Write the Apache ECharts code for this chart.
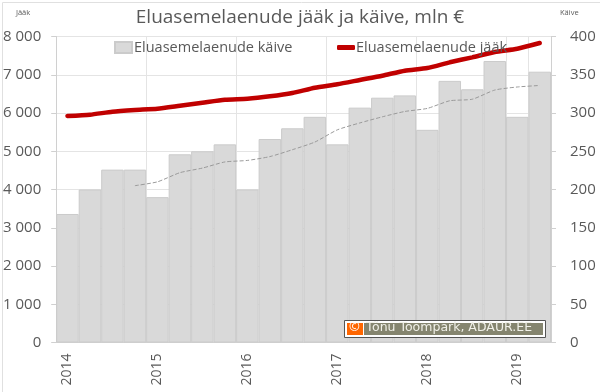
<!DOCTYPE html>
<html>
<head>
<meta charset="utf-8">
<title>Eluasemelaenude jääk ja käive</title>
<script src="https://cdn.jsdelivr.net/npm/echarts@6/dist/echarts.min.js"></script>
<style>
  html, body { margin: 0; padding: 0; background: #fff; }
  #chart { width: 600px; height: 392px; }
</style>
</head>
<body>
<div id="chart"></div>
<script>
// kvartalid, aasta silt iga nelja tulba kohta
let kvartalid = ['2014', '', '', '', '2015', '', '', '', '2016', '', '', '', '2017', '', '', '', '2018', '', '', '', '2019', ''];
let jaak = [5922, 5956, 6034, 6078, 6113, 6191, 6270, 6348, 6374, 6436, 6523, 6662, 6750, 6863, 6975, 7106, 7176, 7325, 7455, 7595, 7681, 7830];
let kaive = [168, 200, 226, 226, 190, 246, 250, 259, 200, 266, 280, 295, 259, 307, 320, 323, 278, 342, 331, 368, 295, 354];
let kaiveKeskmine = ['-', '-', '-', 205, 210, 222, 228, 236, 238, 243, 252, 262, 278, 287, 295, 302, 306, 316, 318, 330, 334, 336];

let fontFamily = '"Open Sans", "Noto Sans", sans-serif';
let textColor = '#595959';
let gridColor = '#e4e4e4';
let axisColor = '#d0d0d0';

let chart = echarts.init(document.getElementById('chart'), null, {renderer: 'canvas'});

let option = {
  animation: false,
  textStyle: {fontFamily: fontFamily},
  title: {
    text: 'Eluasemelaenude jääk ja käive, mln €',
    left: 'center',
    top: 3,
    textStyle: {fontFamily: fontFamily, fontSize: 19, fontWeight: 'normal', color: textColor}
  },
  legend: [
    {
      data: [{name: 'Eluasemelaenude käive', icon: 'rect'}],
      left: 109,
      top: 35,
      itemWidth: 17,
      itemHeight: 11,
      itemGap: 2,
      textStyle: {fontFamily: fontFamily, fontSize: 14.5, color: textColor, padding: [0, 0, 0, -3]}
    },
    {
      data: [{name: 'Eluasemelaenude jääk', icon: 'roundRect', itemStyle: {color: '#c00000', borderWidth: 0}}],
      left: 332,
      top: 35,
      itemWidth: 18,
      itemHeight: 5,
      textStyle: {fontFamily: fontFamily, fontSize: 14.5, color: textColor, padding: [0, 0, 0, -4]}
    }
  ],
  grid: {left: 53, right: 49, top: 36.5, bottom: 49.5},
  xAxis: {
    type: 'category',
    data: kvartalid,
    axisLine: {lineStyle: {color: axisColor}},
    axisTick: {interval: 3, length: 5, lineStyle: {color: axisColor}},
    splitLine: {show: true, interval: 3, lineStyle: {color: gridColor}},
    axisLabel: {interval: 0, rotate: 90, margin: 11, fontSize: 14, color: textColor}
  },
  yAxis: [
    {
      type: 'value',
      min: 0,
      max: 8000,
      interval: 1000,
      name: 'Jääk',
      nameGap: 20,
      nameTextStyle: {fontSize: 7.5, color: textColor, align: 'right', padding: [0, 26, 0, 0]},
      axisLine: {show: true, lineStyle: {color: axisColor}},
      axisTick: {show: true, length: 5, lineStyle: {color: axisColor}},
      splitLine: {lineStyle: {color: gridColor}},
      axisLabel: {
        margin: 15,
        fontSize: 15,
        color: textColor,
        formatter: function (value) {
          return value === 0 ? '0' : String(value).replace('000', ' 000');
        }
      }
    },
    {
      type: 'value',
      min: 0,
      max: 400,
      interval: 50,
      name: 'Käive',
      nameGap: 20,
      nameTextStyle: {fontSize: 7.5, color: textColor, align: 'left', padding: [0, 0, 0, 9]},
      axisLine: {show: true, lineStyle: {color: axisColor}},
      axisTick: {show: true, length: 5, lineStyle: {color: axisColor}},
      splitLine: {show: false},
      axisLabel: {margin: 19, fontSize: 15, color: textColor}
    }
  ],
  series: [
    {
      name: 'Eluasemelaenude käive',
      type: 'bar',
      yAxisIndex: 1,
      barWidth: '100%',
      data: kaive,
      itemStyle: {color: '#d9d9d9', borderColor: '#cbcbcb', borderWidth: 1},
      z: 1
    },
    {
      name: 'Keskmine käive',
      type: 'line',
      yAxisIndex: 1,
      data: kaiveKeskmine,
      showSymbol: false,
      smooth: 0.2,
      lineStyle: {color: '#9a9a9a', width: 1, type: [4, 2]},
      z: 2
    },
    {
      name: 'Eluasemelaenude jääk',
      type: 'line',
      yAxisIndex: 0,
      data: jaak,
      showSymbol: false,
      smooth: 0.2,
      lineStyle: {color: '#c00000', width: 4.5, cap: 'round'},
      z: 3
    }
  ],
  graphic: [
    // autori silt
    {type: 'rect', left: 344, top: 320, z: 10, shape: {width: 201, height: 17}, style: {fill: '#fff', stroke: '#555', lineWidth: 1}},
    {type: 'rect', left: 347, top: 323, z: 11, shape: {width: 16, height: 12}, style: {fill: '#ff6600'}},
    {type: 'rect', left: 364, top: 323, z: 11, shape: {width: 179, height: 12}, style: {fill: '#85856f'}},
    {type: 'text', left: 349, top: 321, z: 12, style: {text: '©', fill: '#fff', fontSize: 13, fontFamily: fontFamily}},
    {type: 'text', left: 366, top: 321, z: 12, style: {text: 'Tõnu Toompark, ADAUR.EE', fill: '#f0f0e8', fontSize: 12.5, fontFamily: '"DejaVu Sans", sans-serif'}},
    // välimine raam
    {type: 'rect', left: 0, top: 0, z: 0, silent: true, shape: {width: 598, height: 391}, style: {fill: 'none', stroke: '#e0e0e0', lineWidth: 1}}
  ]
};

option && chart.setOption(option);
</script>
</body>
</html>
